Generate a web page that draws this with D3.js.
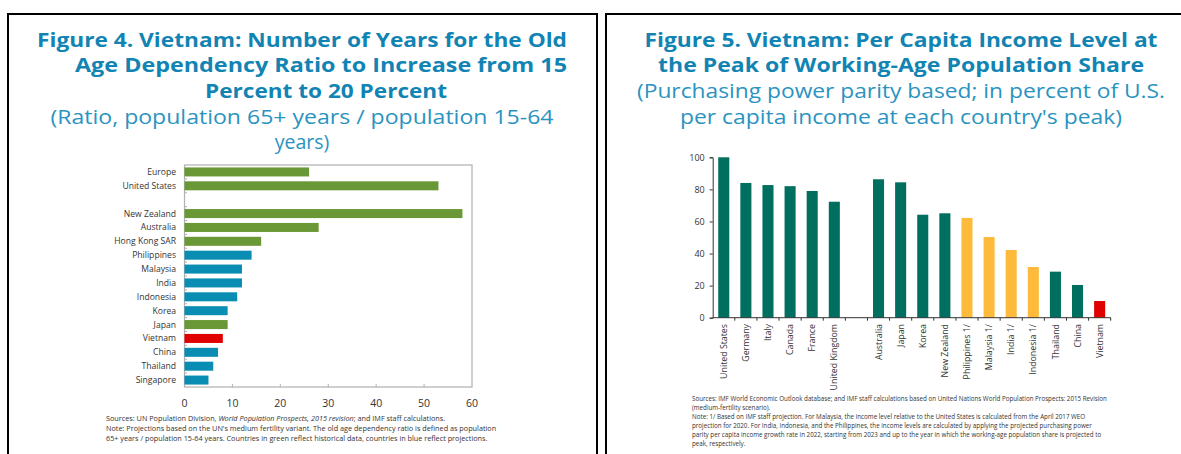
<!DOCTYPE html>
<html><head><meta charset="utf-8">
<script src="https://cdn.jsdelivr.net/npm/d3@7"></script>
<style>
html,body{margin:0;padding:0;background:#fff;}
svg{display:block;}
text{font-family:"Open Sans","Noto Sans",sans-serif;}
</style></head>
<body>
<svg id="c" width="1181" height="454"></svg>
<script>
// ---------- Figure 4 data ----------
const leftCategories = ["Europe","United States","","New Zealand","Australia","Hong Kong SAR","Philippines","Malaysia","India","Indonesia","Korea","Japan","Vietnam","China","Thailand","Singapore"];
const leftValues = [26,53,null,58,28,16,14,12,12,11,9,9,8,7,6,5];
const leftGroups = ["hist","hist","","hist","hist","hist","proj","proj","proj","proj","proj","hist","vn","proj","proj","proj"];
const leftTicks = [0,10,20,30,40,50,60];

// ---------- Figure 5 data ----------
const rightCategories = ["United States","Germany","Italy","Canada","France","United Kingdom","","Australia","Japan","Korea","New Zealand","Philippines 1/","Malaysia 1/","India 1/","Indonesia 1/","Thailand","China","Vietnam"];
const rightValues = [100,84,82.7,82,79,72.3,null,86.3,84.4,64.2,65.1,62.2,50.3,42.2,31.6,28.7,20.4,10.4];
const rightGroups = ["a","a","a","a","a","a","","a","a","a","a","p","p","p","p","a","a","vn"];
const rightTicks = [0,20,40,60,80,100];

const svg = d3.select("#c");
const titleColor = "#1184b3";
const subColor = "#2a93c0";

// panel frames
svg.append("rect").attr("x",8).attr("y",14).attr("width",589).attr("height",470)
  .attr("fill","none").attr("stroke","#000").attr("stroke-width",2);
svg.append("rect").attr("x",606).attr("y",14).attr("width",620).attr("height",470)
  .attr("fill","none").attr("stroke","#000").attr("stroke-width",2);

function fitSpacing(sel, target){
  sel.attr("textLength", target).attr("lengthAdjust","spacingAndGlyphs");
}

// ---------- Figure 4 titles ----------
const t4 = [
  {t:"Figure 4. Vietnam: Number of Years for the Old", x:37, y:47, w:530, b:true, a:"start"},
  {t:"Age Dependency Ratio to Increase from 15", x:75, y:72, w:492, b:true, a:"start"},
  {t:"Percent to 20 Percent", x:326, y:98, w:242, b:true, a:"middle"},
  {t:"(Ratio, population 65+ years / population 15-64", x:302, y:124, w:503, b:false, a:"middle"},
  {t:"years)", x:302, y:149, w:60, b:false, a:"middle"}
];
t4.forEach((d,i)=>{
  const s = svg.append("text").attr("x",d.x).attr("y",d.y).attr("text-anchor",d.a)
    .attr("font-size",19.5).attr("font-weight",d.b?"bold":"normal")
    .attr("fill",d.b?titleColor:subColor).text(d.t);
  if(i<4) fitSpacing(s,d.w);
});

// ---------- Figure 4 chart ----------
const lx = d3.scaleLinear().domain([0,60]).range([184.5,472]);
const ly = d3.scaleBand().domain(leftCategories.map((c,i)=>i)).range([165,387]).paddingInner(0.35).paddingOuter(0.175);
const lcol = {hist:"#6a9836", proj:"#0a8db3", vn:"#e10000"};

svg.append("rect").attr("x",lx(0)).attr("y",165).attr("width",lx(60)-lx(0)).attr("height",222)
  .attr("fill","none").attr("stroke","#b0b0b0").attr("stroke-width",1.2);

// x ticks (inward)
svg.append("g").selectAll("line").data(leftTicks.slice(1,-1)).join("line")
  .attr("x1",d=>lx(d)).attr("x2",d=>lx(d)).attr("y1",387).attr("y2",384)
  .attr("stroke","#b0b0b0");
svg.append("g").selectAll("text").data(leftTicks).join("text")
  .attr("x",d=>lx(d)).attr("y",407).attr("text-anchor","middle")
  .attr("font-size",10.5).attr("fill","#333").text(d=>d);

// y boundary ticks
const step = ly.step();
svg.append("g").selectAll("line").data(d3.range(1,leftCategories.length)).join("line")
  .attr("x1",lx(0)).attr("x2",lx(0)+2.5)
  .attr("y1",i=>165+i*step).attr("y2",i=>165+i*step)
  .attr("stroke","#b0b0b0");

svg.append("g").selectAll("rect").data(leftValues.map((v,i)=>({v,i})).filter(d=>d.v!=null)).join("rect")
  .attr("x",lx(0)).attr("y",d=>ly(d.i)).attr("height",ly.bandwidth())
  .attr("width",d=>lx(d.v)-lx(0)).attr("fill",d=>lcol[leftGroups[d.i]]);

svg.append("g").selectAll("text").data(leftCategories.map((c,i)=>({c,i}))).join("text")
  .attr("x",176).attr("y",d=>ly(d.i)+ly.bandwidth()/2).attr("dy","0.35em")
  .attr("text-anchor","end").attr("font-size",8.6).attr("font-family","Lato,sans-serif")
  .attr("fill","#333").text(d=>d.c);

// notes
const n4 = svg.append("g").attr("font-size",7).attr("fill","#333");
const s1 = n4.append("text").attr("x",106).attr("y",421);
s1.append("tspan").text("Sources: UN Population Division, ");
s1.append("tspan").attr("font-style","italic").text("World Population  Prospects, 2015 revision");
s1.append("tspan").text("; and IMF staff calculations.");
const n4b = n4.append("text").attr("x",106).attr("y",431).text("Note: Projections based on the UN's medium fertility variant. The old age dependency ratio is defined as population");
n4.append("text").attr("x",106).attr("y",441).text("65+ years / population 15-64 years. Countries in green reflect historical data, countries in blue reflect projections.");
{
  const w = n4b.node().getComputedTextLength();
  n4.attr("font-size",(7*391/w).toFixed(2));
}

// ---------- Figure 5 titles ----------
const t5 = [
  {t:"Figure 5. Vietnam: Per Capita Income Level at", y:47, w:513, b:true},
  {t:"the Peak of Working-Age Population Share", y:72, w:486, b:true},
  {t:"(Purchasing power parity based; in percent of U.S.", y:98, w:528, b:false},
  {t:"per capita income at each country's peak)", y:124, w:442, b:false}
];
t5.forEach(d=>{
  const s = svg.append("text").attr("x",901).attr("y",d.y).attr("text-anchor","middle")
    .attr("font-size",19.5).attr("font-weight",d.b?"bold":"normal")
    .attr("fill",d.b?titleColor:subColor).text(d.t);
  fitSpacing(s,d.w);
});

// ---------- Figure 5 chart ----------
const rx = d3.scaleBand().domain(rightCategories.map((c,i)=>i)).range([712.7,1110.7]).paddingInner(0.5).paddingOuter(0.25);
const ry = d3.scaleLinear().domain([0,100]).range([317.7,157.3]);
const rcol = {a:"#006f5f", p:"#fdba3b", vn:"#e00000"};

svg.append("g").selectAll("rect").data(rightValues.map((v,i)=>({v,i})).filter(d=>d.v!=null)).join("rect")
  .attr("x",d=>rx(d.i)).attr("width",rx.bandwidth())
  .attr("y",d=>ry(d.v)).attr("height",d=>ry(0)-ry(d.v)).attr("fill",d=>rcol[rightGroups[d.i]]);

const yAx = svg.append("g").attr("transform","translate(712.7,0)")
  .call(d3.axisLeft(ry).tickValues(rightTicks).tickSize(3).tickPadding(5));
yAx.select(".domain").attr("stroke","#333");
yAx.selectAll(".tick line").attr("stroke","#333");
yAx.selectAll("text").attr("font-size",9).attr("fill","#333").attr("font-family","\"Open Sans\",sans-serif");

svg.append("line").attr("x1",712.7).attr("x2",1110.7).attr("y1",ry(0)).attr("y2",ry(0)).attr("stroke","#333");
const rstep = rx.step();
svg.append("g").selectAll("line").data(d3.range(1,rightCategories.length+1)).join("line")
  .attr("x1",i=>712.7+i*rstep).attr("x2",i=>712.7+i*rstep)
  .attr("y1",ry(0)).attr("y2",ry(0)+3).attr("stroke","#333");

svg.append("g").selectAll("text").data(rightCategories.map((c,i)=>({c,i}))).join("text")
  .attr("transform",d=>`translate(${rx(d.i)+rx.bandwidth()/2},324) rotate(-90)`)
  .attr("text-anchor","end").attr("dy","0.35em")
  .attr("font-size",8.8).attr("fill","#333").text(d=>d.c);

const n5 = svg.append("g").attr("font-size",6.1).attr("fill","#333");
const notes5 = [
  "Sources: IMF World Economic Outlook database; and IMF staff calculations based on United Nations World Population Prospects: 2015 Revision",
  "(medium-fertility  scenario).",
  "Note: 1/ Based on IMF staff projection.  For Malaysia, the income level relative to the United States is calculated  from the April 2017 WEO",
  "projection  for 2020. For India, Indonesia, and the Philippines, the income levels are calculated by applying the projected  purchasing power",
  "parity per capita income growth rate in 2022, starting from 2023 and up to the year in which  the working-age population share is projected  to",
  "peak, respectively."
];
const n5t = n5.selectAll("text").data(notes5).join("text")
  .attr("x",692).attr("y",(d,i)=>401+i*9).text(d=>d);
{
  const w = n5t.filter((d,i)=>i===0).node().getComputedTextLength();
  n5.attr("font-size",(6.1*415/w).toFixed(2));
}
</script>
</body></html>
